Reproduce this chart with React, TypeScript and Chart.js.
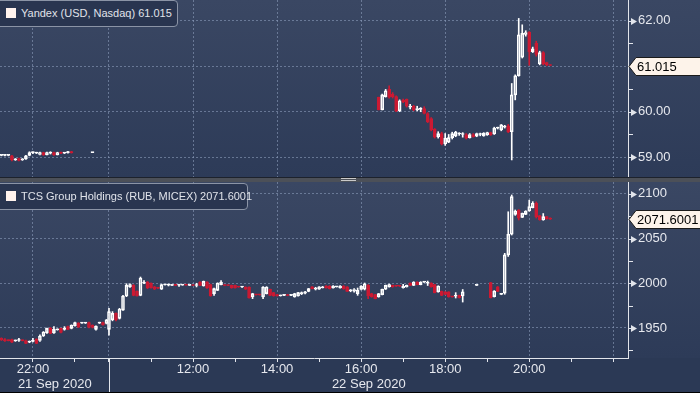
import { useEffect, useRef } from "react";
import { Chart, registerables } from "chart.js";
Chart.register(...registerables);

const FONT = "'Liberation Sans', Arial, sans-serif";
const UP = "#ffffff";
const DOWN = "#cc1a33";
const GRID = "rgba(140,156,186,0.6)";
const AXIS = "#e2e5eb";
const LABEL = "#e6e8ee";

// ---------------- Yandex (USD, Nasdaq) 5-min candles ----------------
const yandexName = "Yandex (USD, Nasdaq)";
const yTimes = [
  "21 21:15", "21 21:20", "21 21:25", "21 21:30", "21 21:35", "21 21:40", "21 21:45", "21 21:50", "21 21:55",
  "21 22:00", "21 22:05", "21 22:10", "21 22:15", "21 22:20", "21 22:25", "21 22:30", "21 22:35", "21 22:40", "21 22:45", "21 22:50", "21 22:55",
  "21 23:25",
  "22 16:25", "22 16:30", "22 16:35", "22 16:40", "22 16:45", "22 16:50", "22 16:55",
  "22 17:00", "22 17:05", "22 17:10", "22 17:15", "22 17:20", "22 17:25", "22 17:30", "22 17:35", "22 17:40", "22 17:45", "22 17:50", "22 17:55",
  "22 18:00", "22 18:05", "22 18:10", "22 18:15", "22 18:20", "22 18:25", "22 18:30", "22 18:35", "22 18:40", "22 18:45", "22 18:50", "22 18:55",
  "22 19:00", "22 19:05", "22 19:10", "22 19:15", "22 19:20", "22 19:25", "22 19:30", "22 19:35", "22 19:40", "22 19:45", "22 19:50", "22 19:55",
  "22 20:00", "22 20:05", "22 20:10", "22 20:15", "22 20:20", "22 20:25", "22 20:30",
];
const yOpen = [
  59.04, 59.04, 59.04, 59.03, 58.94, 58.97, 58.94, 58.96, 59.04,
  59.10, 59.09, 59.06, 59.10, 59.05, 59.09, 59.10, 59.05, 59.10, 59.09, 59.10, 59.12,
  59.10,
  60.32, 60.04, 60.33, 60.49, 60.38, 60.33, 60.02,
  60.25, 60.27, 60.10, 60.12, 60.04, 60.05, 60.07, 59.96, 59.85, 59.61, 59.45, 59.52,
  59.29, 59.33, 59.43, 59.47, 59.51, 59.50, 59.50, 59.43, 59.50, 59.46, 59.50, 59.47,
  59.49, 59.54, 59.51, 59.64, 59.60, 59.66, 59.69, 59.56, 60.37, 60.79, 61.20, 61.70,
  61.75, 61.32, 61.50, 61.05, 61.30, 61.08, 61.03,
];
const yHigh = [
  59.05, 59.05, 59.05, 59.04, 58.97, 58.98, 58.97, 59.04, 59.12,
  59.12, 59.11, 59.11, 59.11, 59.11, 59.12, 59.11, 59.11, 59.11, 59.10, 59.13, 59.13,
  59.11,
  60.32, 60.39, 60.49, 60.57, 60.42, 60.35, 60.26,
  60.28, 60.28, 60.16, 60.14, 60.12, 60.09, 60.11, 59.98, 59.87, 59.63, 59.56, 59.55,
  59.52, 59.50, 59.55, 59.57, 59.54, 59.54, 59.52, 59.52, 59.52, 59.53, 59.53, 59.54,
  59.55, 59.55, 59.66, 59.66, 59.72, 59.70, 59.72, 60.62, 60.81, 62.05, 61.91, 61.78,
  61.76, 61.42, 61.55, 61.33, 61.32, 61.09, 61.03,
];
const yLow = [
  59.03, 59.03, 59.03, 58.92, 58.93, 58.92, 58.93, 58.95, 59.03,
  59.08, 59.08, 59.05, 59.04, 59.05, 59.07, 59.04, 59.05, 59.08, 59.08, 59.09, 59.09,
  59.10,
  60.04, 60.04, 60.32, 60.30, 60.30, 60.00, 60.00,
  60.20, 60.10, 60.06, 60.02, 60.02, 60.00, 59.95, 59.76, 59.58, 59.42, 59.42, 59.27,
  59.26, 59.32, 59.40, 59.45, 59.48, 59.44, 59.40, 59.42, 59.44, 59.45, 59.47, 59.46,
  59.48, 59.48, 59.50, 59.62, 59.58, 59.64, 59.54, 58.94, 60.26, 60.78, 61.18, 61.66,
  61.02, 61.30, 61.22, 61.03, 61.03, 61.01, 61.01,
];
const yClose = [
  59.045, 59.045, 59.045, 58.94, 58.95, 58.93, 58.96, 59.03, 59.10,
  59.11, 59.10, 59.10, 59.05, 59.10, 59.095, 59.05, 59.10, 59.09, 59.095, 59.12, 59.10,
  59.105,
  60.04, 60.37, 60.46, 60.32, 60.33, 60.02, 60.24,
  60.22, 60.12, 60.12, 60.04, 60.07, 60.06, 59.96, 59.78, 59.60, 59.44, 59.52, 59.29,
  59.42, 59.43, 59.52, 59.55, 59.52, 59.51, 59.42, 59.50, 59.45, 59.52, 59.505, 59.53,
  59.54, 59.49, 59.64, 59.65, 59.71, 59.68, 59.56, 60.37, 60.79, 61.69, 61.72, 61.74,
  61.32, 61.38, 61.26, 61.30, 61.05, 61.03, 61.015,
];

// ---------------- TCS Group Holdings (RUB, MICEX) 5-min candles ----------------
const tcsName = "TCS Group Holdings (RUB, MICEX)";
const tTimes = [
  "21 21:15", "21 21:20", "21 21:25", "21 21:30", "21 21:35", "21 21:40", "21 21:45", "21 21:50", "21 21:55",
  "21 22:00", "21 22:05", "21 22:10", "21 22:15", "21 22:20", "21 22:25", "21 22:30", "21 22:35", "21 22:40", "21 22:45", "21 22:50", "21 22:55",
  "21 23:00", "21 23:05", "21 23:10", "21 23:15", "21 23:20", "21 23:25", "21 23:30", "21 23:35", "21 23:40", "21 23:45",
  "22 10:00", "22 10:05", "22 10:10", "22 10:15", "22 10:20", "22 10:25", "22 10:30", "22 10:35", "22 10:40", "22 10:45", "22 10:50", "22 10:55",
  "22 11:00", "22 11:05", "22 11:10", "22 11:15", "22 11:20", "22 11:25", "22 11:30", "22 11:35", "22 11:40", "22 11:45", "22 11:50", "22 11:55",
  "22 12:00", "22 12:05", "22 12:10", "22 12:15", "22 12:20", "22 12:25", "22 12:30", "22 12:35", "22 12:40", "22 12:45", "22 12:50", "22 12:55",
  "22 13:00", "22 13:05", "22 13:10", "22 13:15", "22 13:20", "22 13:25", "22 13:30", "22 13:35", "22 13:40", "22 13:45", "22 13:50", "22 13:55",
  "22 14:00", "22 14:05", "22 14:10", "22 14:15", "22 14:20", "22 14:25", "22 14:30", "22 14:35", "22 14:40", "22 14:45", "22 14:50", "22 14:55",
  "22 15:00", "22 15:05", "22 15:10", "22 15:15", "22 15:20", "22 15:25", "22 15:30", "22 15:35", "22 15:40", "22 15:45", "22 15:50", "22 15:55",
  "22 16:00", "22 16:05", "22 16:10", "22 16:15", "22 16:20", "22 16:25", "22 16:30", "22 16:35", "22 16:40", "22 16:45", "22 16:50", "22 16:55",
  "22 17:00", "22 17:05", "22 17:10", "22 17:15", "22 17:20", "22 17:25", "22 17:30", "22 17:35", "22 17:40", "22 17:45", "22 17:50", "22 17:55",
  "22 18:00", "22 18:05", "22 18:10", "22 18:15", "22 18:20", "22 18:25",
  "22 18:45",
  "22 19:05", "22 19:10", "22 19:15", "22 19:20", "22 19:25", "22 19:30", "22 19:35", "22 19:40", "22 19:45", "22 19:50", "22 19:55",
  "22 20:00", "22 20:05", "22 20:10", "22 20:15", "22 20:20", "22 20:25", "22 20:30",
];
const tOpen = [
  1938.5, 1937, 1936, 1937, 1935.5, 1936, 1936, 1936, 1934,
  1935, 1937.5, 1936, 1941, 1944.5, 1950, 1944.5, 1948, 1949.5, 1948.5, 1951.5, 1949.5,
  1952.5, 1955.5, 1955.5, 1955.5, 1956, 1953, 1948.5, 1955.5, 1956, 1955,
  1948.5, 1959, 1966.4, 1960.8, 1970, 1985.8, 1995.9, 1997.7, 1991, 1986.5, 2000, 2001.4,
  2000, 1995.9, 1994.8, 1993.3, 1998.3, 1998, 1997.7, 1997.9, 1998, 1998, 1998.2, 1997.6,
  1997.8, 1997.5, 2001.4, 1997, 2001.4, 1998.5, 1988.4, 1992.1, 1998.5, 1998, 1997.7, 1997.7,
  1997.7, 1996, 1995.8, 1995.8, 1995.8, 1984.7, 1987.3, 1987.4, 1984.7, 1988.4, 1993.3, 1989.5,
  1987.3, 1986, 1986.5, 1986.8, 1986.4, 1984.7, 1985.8, 1988.5, 1989, 1991, 1995.9, 1993.5,
  1993.5, 1995, 1997, 1997, 1994.7, 1996, 1994.7, 1997, 1995.9, 1991.5, 1991.3, 1988.4,
  1993, 1993.3, 1997.7, 1988.4, 1987.3, 1984.7, 1987.3, 1993.3, 1995.9, 1997.7, 1997, 1997,
  1995, 1996, 2000.3, 1997.7, 2001.4, 1998.5, 2001.2, 2000, 2000.3, 1998.5, 1990.3, 1991,
  1990.3, 1990.3, 1984.8, 1985.5, 1986.5, 1985.8,
  1997.7,
  2000.7, 1985, 1996, 1987.5, 1989, 2031.7, 2054.8, 2077.1, 2082, 2073.8, 2077.1,
  2080.9, 2084.6, 2089.5, 2075.7, 2070.8, 2074.5, 2073,
];
const tHigh = [
  1939, 1938, 1936.5, 1937.5, 1936.5, 1938.5, 1936.3, 1936.5, 1935.5,
  1938.5, 1938, 1942.2, 1946, 1950, 1950.5, 1951.5, 1949, 1950, 1951.5, 1952, 1953.5,
  1956.5, 1956, 1956.3, 1956.3, 1956.5, 1953.5, 1952.5, 1956.5, 1956.5, 1959.5,
  1972, 1968.3, 1967, 1972, 1986.5, 1999.5, 1999.5, 1998.5, 1991.5, 2007, 2003, 2002,
  2000.5, 1996.5, 1995, 1999, 1998.8, 1999.2, 1998, 1998.1, 1998.5, 1998.5, 1998.4, 1998.1,
  1998, 2000, 2001.8, 2002.5, 2001.8, 1999, 1994.5, 2000.5, 2003, 1998.3, 1998, 1998,
  1998, 1996.3, 1996.3, 1996.1, 1996.1, 1988.8, 1987.6, 1987.7, 1996.2, 1996.2, 1993.6, 1989.8,
  1987.6, 1986.8, 1987, 1987.1, 1987, 1988.8, 1989.8, 1990.3, 1991, 1994.3, 1996.3, 1995.5,
  1996.2, 1996.5, 1997.4, 1997.4, 1997.4, 1996.5, 1997.4, 1997.4, 1996.2, 1993, 1994, 1994.7,
  1997.5, 2000.3, 1998.5, 1988.8, 1987.6, 1988.6, 1993.6, 1998, 1999, 1998, 1997.3, 1997.3,
  1998.8, 1998, 2000.6, 2001.8, 2001.8, 2001.8, 2001.8, 2002.5, 2000.6, 1998.8, 1997.2, 1991.3,
  1990.6, 1990.6, 1985, 1989.5, 1986.8, 1993,
  1998.2,
  2001, 1991.8, 1996.4, 1988.8, 2033.5, 2080, 2098.8, 2082, 2082.5, 2078.6, 2081.2,
  2093, 2091.3, 2091, 2076, 2078, 2074.8, 2073.3,
];
const tLow = [
  1936, 1935, 1935.5, 1933.5, 1935, 1935, 1935.5, 1932.5, 1933.5,
  1934.5, 1932.5, 1935, 1940.5, 1944, 1943.5, 1944, 1947.5, 1944.5, 1947.5, 1948, 1949,
  1952, 1950.5, 1955, 1955, 1950, 1950, 1947.5, 1955, 1953, 1954.5,
  1942, 1958, 1958, 1960, 1969.5, 1985, 1995.5, 1986, 1985.5, 1986, 1999.5, 1994,
  1994.5, 1993, 1994, 1993, 1998, 1997, 1997.5, 1997.5, 1996.6, 1997.8, 1997.8, 1997.4,
  1997.3, 1995.9, 1997.3, 1996.8, 1994.3, 1985.5, 1986.5, 1991.8, 1998.2, 1997.2, 1997.2, 1994.4,
  1994.4, 1995.5, 1995.5, 1993, 1983.2, 1982.8, 1986.7, 1986.7, 1982.8, 1988, 1986.2, 1985.5,
  1985.5, 1985.6, 1986.2, 1986, 1986.1, 1984.4, 1985.5, 1987.3, 1988, 1990.5, 1993.7, 1992.5,
  1993.2, 1994.7, 1994.4, 1993.6, 1994.4, 1995.7, 1994.4, 1993.3, 1990.8, 1990.5, 1990, 1986.5,
  1992.5, 1992.5, 1982.8, 1984.4, 1982.5, 1984.4, 1987, 1993, 1995.6, 1995.6, 1996.5, 1996.5,
  1994.5, 1995.7, 1997.4, 1997.4, 1998.2, 1998.2, 2001, 1997.5, 1995.6, 1989.2, 1990, 1986.2,
  1987.3, 1984.4, 1984.5, 1983.5, 1983.5, 1979,
  1997.5,
  1983.5, 1984.6, 1990.6, 1987.2, 1987.7, 2030, 2054, 2076, 2070.8, 2073.5, 2076.8,
  2080.5, 2084.3, 2073, 2070.5, 2070.5, 2071.7, 2071.4,
];
const tClose = [
  1936.5, 1935.5, 1935.8, 1934, 1936, 1936.5, 1935.8, 1932.8, 1935,
  1935.5, 1932.8, 1941, 1945.5, 1949.6, 1944, 1948.5, 1948.5, 1945, 1949.5, 1948.5, 1953,
  1956, 1951, 1956, 1956, 1950.5, 1950.5, 1952, 1956, 1953.5, 1959,
  1968.3, 1966.4, 1959, 1971.2, 1985.8, 1997.7, 1998.5, 1986.5, 1985.8, 2005.9, 2001, 1994.7,
  1995, 1993.3, 1994.4, 1998.5, 1998.5, 1998.2, 1997.8, 1997.7, 1998.2, 1998.3, 1998, 1997.9,
  1997.5, 1998.2, 1997.7, 2002.2, 1994.7, 1985.8, 1994, 2000.3, 2001.4, 1997.5, 1997.5, 1994.7,
  1994.7, 1995.8, 1996, 1993.3, 1983.5, 1988.4, 1987, 1987, 1995.8, 1995.8, 1986.5, 1985.8,
  1985.8, 1986.4, 1986.7, 1986.3, 1986.7, 1988.4, 1989.5, 1989.5, 1990.3, 1994, 1994, 1994.5,
  1995.9, 1996, 1994.7, 1994, 1997, 1996.2, 1997, 1993.6, 1991, 1992.2, 1993, 1992.1,
  1996.5, 1999.5, 1985.8, 1984.7, 1982.8, 1988.4, 1993.3, 1997.7, 1998.5, 1996, 1996.8, 1996.8,
  1996.5, 1997.7, 1997.7, 2001.4, 1998.5, 2001.4, 2001.4, 2000.5, 1995.9, 1989.5, 1996.9, 1986.5,
  1987.6, 1984.7, 1984.7, 1986.5, 1983.9, 1990.3,
  1998,
  1983.9, 1991.4, 1991, 1988.5, 2031.7, 2054.8, 2097, 2080.8, 2072.7, 2078.3, 2080.8,
  2085.7, 2089.5, 2074.5, 2070.8, 2074.5, 2072, 2071.6001,
];

// ---------------- axes ----------------
const X_MIN = "21 21:13";
const X_MAX = "22 22:21";
const DAY_BREAK = "22 10:00";
const xTickTimes = [
  "21 22:00", "21 23:00", "22 10:00", "22 11:00", "22 12:00", "22 13:00", "22 14:00", "22 15:00",
  "22 16:00", "22 17:00", "22 18:00", "22 19:00", "22 20:00", "22 21:00", "22 22:00",
];
const xTickLabels = ["22:00", "", "", "", "12:00", "", "14:00", "", "16:00", "", "18:00", "", "20:00", "", ""];
const xGridOn = [true, false, true, false, true, false, true, false, true, false, true, false, true, false, true];
const dayLabels = ["21 Sep 2020", "22 Sep 2020"];

const yandexTicks = [59, 59.5, 60, 60.5, 61, 61.5, 62];
const yandexTickLabels = ["59.00", "", "60.00", "", "", "", "62.00"];
const yandexGridOn = [true, false, true, false, true, false, true];
const tcsTicks = [1925, 1950, 1975, 2000, 2025, 2050, 2075, 2100];
const tcsTickLabels = ["", "1950", "", "2000", "", "2050", "", "2100"];
const tcsGridOn = [false, true, false, true, false, true, false, true];

// session-compressed time position (hours); overnight gap removed
const DAY2_OFFSET = 2.81;
function pos(t: string): number {
  const [d, hm] = t.split(" ");
  const [h, m] = hm.split(":").map(Number);
  const hours = h + m / 60;
  return d === "21" ? hours - 21 : DAY2_OFFSET + hours - 10;
}

function candleDatasets(times: string[], o: number[], h: number[], l: number[], c: number[]) {
  const xs = times.map(pos);
  const up = o.map((v, i) => c[i] >= v);
  const col = up.map((u) => (u ? UP : DOWN));
  return [
    {
      data: xs.map((x, i) => ({ x, y: [Math.max(o[i], c[i]), h[i]] })),
      backgroundColor: col, borderWidth: 0, barThickness: 1, grouped: false,
    },
    {
      data: xs.map((x, i) => ({ x, y: [l[i], Math.min(o[i], c[i])] })),
      backgroundColor: col, borderWidth: 0, barThickness: 1, grouped: false,
    },
    {
      data: xs.map((x, i) => ({ x, y: [o[i], c[i]] })),
      backgroundColor: up.map((u) => (u ? "rgba(0,0,0,0)" : DOWN)),
      borderColor: col, borderWidth: 1, borderSkipped: false, barThickness: 3, minBarLength: 1, grouped: false,
    },
  ];
}

function axisMarks(majors: number[], minors: number[], tag: string, tagValue: number) {
  return {
    id: "axisMarks",
    afterDraw(chart: any) {
      const { ctx, chartArea } = chart;
      const ys = chart.scales.y;
      const r = Math.round(chartArea.right);
      ctx.save();
      ctx.strokeStyle = AXIS;
      ctx.fillStyle = AXIS;
      ctx.lineWidth = 1;
      for (const v of minors) {
        const py = Math.round(ys.getPixelForValue(v)) + 0.5;
        ctx.beginPath(); ctx.moveTo(r, py); ctx.lineTo(r + 5, py); ctx.stroke();
      }
      for (const v of majors) {
        const py = Math.round(ys.getPixelForValue(v)) + 0.5;
        ctx.beginPath(); ctx.moveTo(r, py); ctx.lineTo(r + 4, py); ctx.stroke();
        ctx.beginPath(); ctx.moveTo(r + 3, py - 3.5); ctx.lineTo(r + 9, py); ctx.lineTo(r + 3, py + 3.5); ctx.closePath(); ctx.fill();
      }
      const py = Math.round(ys.getPixelForValue(tagValue)) + 0.5;
      ctx.beginPath();
      ctx.moveTo(r + 1, py); ctx.lineTo(r + 8, py - 9); ctx.lineTo(chart.width + 2, py - 9);
      ctx.lineTo(chart.width + 2, py + 9); ctx.lineTo(r + 8, py + 9); ctx.closePath();
      ctx.fillStyle = "#fdf3ea"; ctx.fill();
      ctx.strokeStyle = "#1b1b1b"; ctx.stroke();
      ctx.fillStyle = "#000";
      ctx.font = `13px ${FONT}`;
      ctx.textAlign = "left"; ctx.textBaseline = "middle";
      ctx.fillText(tag, r + 9, py + 0.5);
      ctx.restore();
    },
  };
}

const dayLabelPlugin = {
  id: "dayLabels",
  afterDraw(chart: any) {
    const { ctx, chartArea } = chart;
    const xs = chart.scales.x;
    const b = Math.round(xs.getPixelForValue(pos(DAY_BREAK))) + 0.5;
    ctx.save();
    ctx.strokeStyle = AXIS; ctx.lineWidth = 1;
    ctx.beginPath(); ctx.moveTo(b, chartArea.bottom); ctx.lineTo(b, chart.height); ctx.stroke();
    ctx.fillStyle = LABEL;
    ctx.font = `13px ${FONT}`;
    ctx.textAlign = "center"; ctx.textBaseline = "middle";
    ctx.fillText(dayLabels[0], (chartArea.left + b) / 2, chartArea.bottom + 26);
    ctx.fillText(dayLabels[1], (b + chartArea.right) / 2, chartArea.bottom + 26);
    ctx.restore();
  },
};

function panelConfig(p: {
  datasets: any[]; yMin: number; yMax: number; yTicks: number[]; yLabels: string[]; yGrid: boolean[];
  showX: boolean; plugins: any[];
}): any {
  return {
    type: "bar",
    data: { datasets: p.datasets },
    options: {
      animation: false,
      responsive: false,
      devicePixelRatio: 1,
      events: [],
      layout: { padding: 0 },
      plugins: { legend: { display: false }, tooltip: { enabled: false } },
      scales: {
        x: {
          type: "linear",
          min: pos(X_MIN),
          max: pos(X_MAX),
          offset: false,
          afterBuildTicks: (s: any) => { s.ticks = xTickTimes.map((t) => ({ value: pos(t) })); },
          afterFit: (s: any) => { s.height = p.showX ? 34 : 0; s.paddingLeft = 0; s.paddingRight = 0; },
          grid: {
            offset: false,
            color: (c: any) => (xGridOn[c.index] ? GRID : "transparent"),
            lineWidth: 1,
            drawTicks: p.showX,
            tickLength: 4,
            tickColor: AXIS,
            tickWidth: 1,
          },
          border: { display: p.showX, color: AXIS, width: 1, dash: [2, 2] },
          ticks: {
            display: p.showX, autoSkip: false, maxRotation: 0, minRotation: 0, padding: 0,
            color: LABEL, font: { family: FONT, size: 13 },
            callback: (_v: any, i: number) => xTickLabels[i] ?? "",
          },
        },
        y: {
          type: "linear",
          position: "right",
          min: p.yMin,
          max: p.yMax,
          beginAtZero: false,
          afterBuildTicks: (s: any) => { s.ticks = p.yTicks.map((v) => ({ value: v })); },
          afterFit: (s: any) => { s.width = 72; s.paddingTop = 0; s.paddingBottom = 0; },
          grid: { color: (c: any) => (p.yGrid[c.index] ? GRID : "transparent"), lineWidth: 1, drawTicks: false },
          border: { display: true, color: AXIS, width: 1, dash: [2, 2] },
          ticks: {
            autoSkip: false, padding: 10, color: LABEL, font: { family: FONT, size: 13 },
            callback: (_v: any, i: number) => p.yLabels[i] ?? "",
          },
        },
      },
    },
    plugins: p.plugins,
  };
}

function Legend({ top, width, text }: { top: number; width: number; text: string }) {
  return (
    <div
      style={{
        position: "absolute", left: -5, top, width, height: 27, boxSizing: "border-box",
        border: "1px solid #8b94a6", borderRadius: 4, background: "#293550",
      }}
    >
      <div style={{ position: "absolute", left: 10, top: 7, width: 10, height: 10, background: "#fff3ee" }} />
      <div
        style={{
          position: "absolute", left: 25, top: 5, whiteSpace: "nowrap", color: "#e0e3ea",
          font: `11px ${FONT}`, lineHeight: "14px",
        }}
      >
        {text}
      </div>
    </div>
  );
}

export default function App() {
  const topRef = useRef<HTMLCanvasElement>(null);
  const botRef = useRef<HTMLCanvasElement>(null);
  const yLast = yClose[yClose.length - 1];
  const tLast = tClose[tClose.length - 1];

  useEffect(() => {
    const top = new Chart(
      topRef.current as HTMLCanvasElement,
      panelConfig({
        datasets: candleDatasets(yTimes, yOpen, yHigh, yLow, yClose),
        yMin: 58.565, yMax: 62.455,
        yTicks: yandexTicks, yLabels: yandexTickLabels, yGrid: yandexGridOn,
        showX: false,
        plugins: [axisMarks(
          yandexTicks.filter((_, i) => yandexTickLabels[i] !== ""),
          yandexTicks.filter((_, i) => yandexTickLabels[i] === ""),
          yLast.toFixed(3), yLast,
        )],
      }),
    );
    const bot = new Chart(
      botRef.current as HTMLCanvasElement,
      panelConfig({
        datasets: candleDatasets(tTimes, tOpen, tHigh, tLow, tClose),
        yMin: 1916.4, yMax: 2113.3,
        yTicks: tcsTicks, yLabels: tcsTickLabels, yGrid: tcsGridOn,
        showX: true,
        plugins: [
          axisMarks(
            tcsTicks.filter((_, i) => tcsTickLabels[i] !== ""),
            tcsTicks.filter((_, i) => tcsTickLabels[i] === ""),
            tLast.toFixed(4), tLast,
          ),
          dayLabelPlugin,
        ],
      }),
    );
    return () => { top.destroy(); bot.destroy(); };
  }, []);

  const panelBg = "linear-gradient(to bottom, #3a4763 0%, #2d3b58 100%)";
  return (
    <div style={{ position: "absolute", left: 0, top: 0, width: 700, height: 393, overflow: "hidden", background: "#2b3955" }}>
      <div style={{ position: "absolute", left: 0, top: 0, width: 700, height: 177, background: panelBg }} />
      <div style={{ position: "absolute", left: 0, top: 177, width: 700, height: 1, background: "#1d222c" }} />
      <div style={{ position: "absolute", left: 0, top: 178, width: 700, height: 4, background: "#4c5058" }} />
      <div style={{ position: "absolute", left: 341, top: 178, width: 15, height: 1, background: "#c9c9c9" }} />
      <div style={{ position: "absolute", left: 341, top: 180, width: 15, height: 1, background: "#c9c9c9" }} />
      <div style={{ position: "absolute", left: 0, top: 182, width: 700, height: 176, background: panelBg }} />
      <canvas ref={topRef} width={700} height={177} style={{ position: "absolute", left: 0, top: 0, width: 700, height: 177, display: "block" }} />
      <canvas ref={botRef} width={700} height={210} style={{ position: "absolute", left: 0, top: 182, width: 700, height: 210, display: "block" }} />
      <div style={{ position: "absolute", left: 0, top: 392, width: 700, height: 1, background: "#000" }} />
      <Legend top={0} width={183} text={`${yandexName} ${yLast.toFixed(3)}`} />
      <Legend top={183} width={253} text={`${tcsName} ${tLast.toFixed(4)}`} />
    </div>
  );
}
